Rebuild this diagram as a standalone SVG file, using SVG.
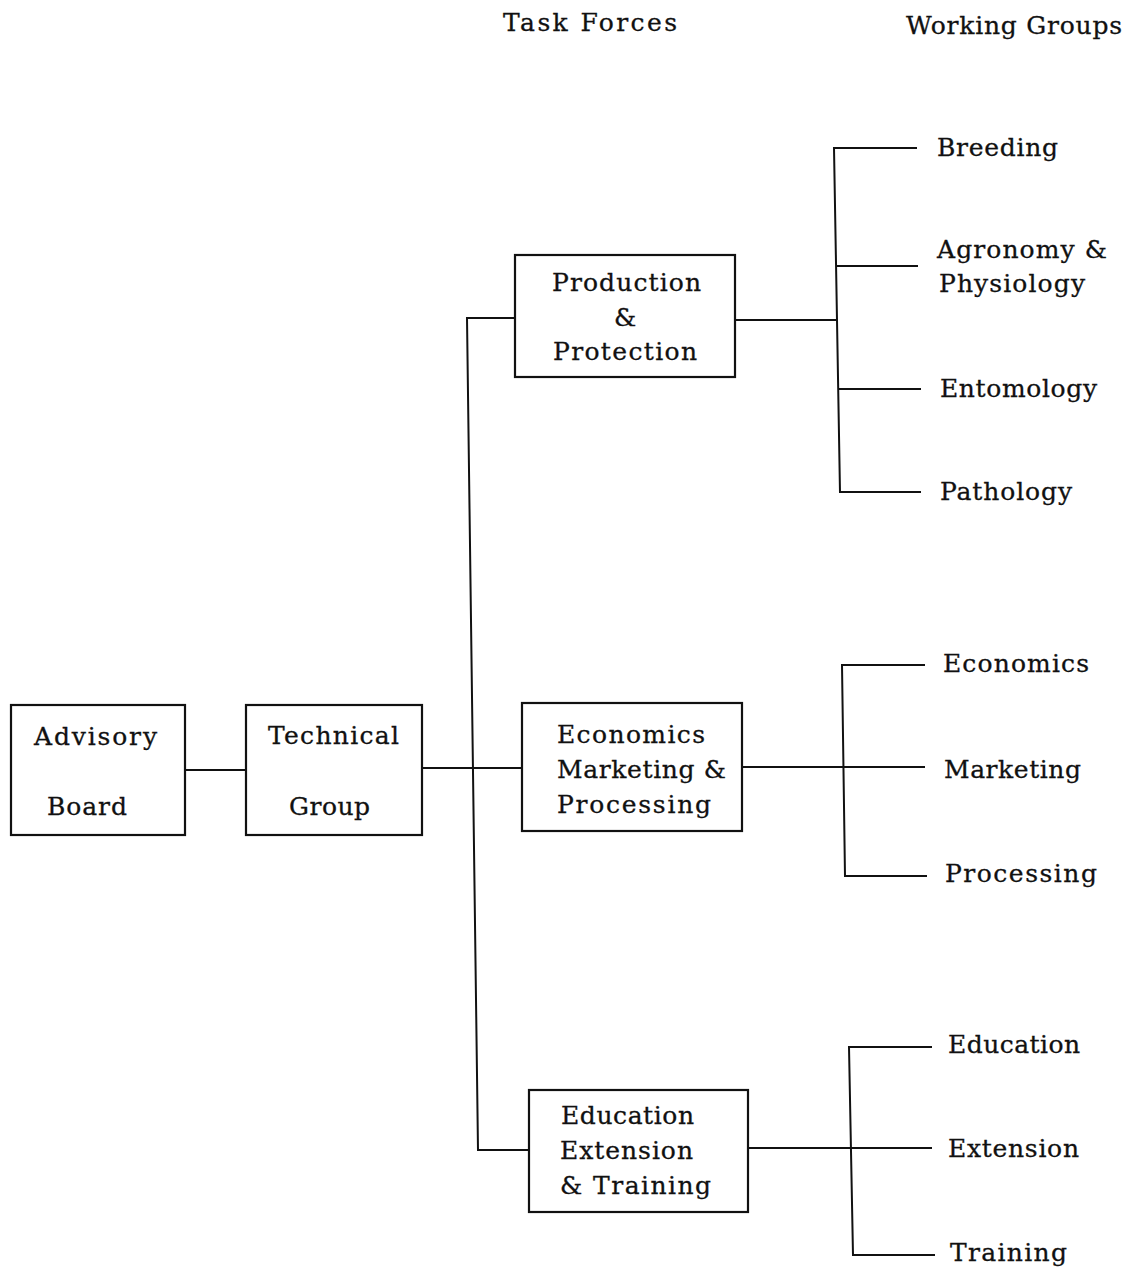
<svg xmlns="http://www.w3.org/2000/svg" width="1133" height="1271" viewBox="0 0 1133 1271">
<style>
.box{fill:none;stroke:#111;stroke-width:2.2}
.ln{fill:none;stroke:#111;stroke-width:2}
text{font-family:"DejaVu Serif","Liberation Serif",serif;font-size:25px;fill:#111;stroke:#111;stroke-width:0.3}
</style>
<rect width="1133" height="1271" fill="#fff"/>
<g id="headers">
<text x="503" y="31" textLength="174" lengthAdjust="spacing">Task Forces</text>
<text x="906" y="34" textLength="216" lengthAdjust="spacing">Working Groups</text>
</g>
<g id="connectors">
<line class="ln" x1="185" y1="770" x2="246" y2="770"/>
<line class="ln" x1="422" y1="768" x2="523" y2="768"/>
<polyline class="ln" points="515,318 467,318 478,1150 529,1150"/>
<line class="ln" x1="735" y1="320" x2="836" y2="320"/>
<polyline class="ln" points="917,148 834,148 840,492 921,492"/>
<line class="ln" x1="836" y1="266" x2="918" y2="266"/>
<line class="ln" x1="838" y1="389" x2="921" y2="389"/>
<line class="ln" x1="742" y1="767" x2="925" y2="767"/>
<polyline class="ln" points="925,665 842,665 845,876 927,876"/>
<line class="ln" x1="748" y1="1148" x2="932" y2="1148"/>
<polyline class="ln" points="932,1047 849,1047 853,1255 935,1255"/>
</g>
<g id="advisory-board">
<rect class="box" x="11" y="705" width="174" height="130"/>
<text x="34" y="745" textLength="123" lengthAdjust="spacing">Advisory</text>
<text x="47" y="815" textLength="80" lengthAdjust="spacing">Board</text>
</g>
<g id="technical-group">
<rect class="box" x="246" y="705" width="176" height="130"/>
<text x="268" y="744" textLength="131" lengthAdjust="spacing">Technical</text>
<text x="289" y="815" textLength="81" lengthAdjust="spacing">Group</text>
</g>
<g id="production-protection">
<rect class="box" x="515" y="255" width="220" height="122"/>
<text x="552" y="291" textLength="149" lengthAdjust="spacing">Production</text>
<text x="614" y="326">&amp;</text>
<text x="553" y="360" textLength="144" lengthAdjust="spacing">Protection</text>
</g>
<g id="economics-marketing-processing">
<rect class="box" x="522" y="703" width="220" height="128"/>
<text x="557" y="743" textLength="148" lengthAdjust="spacing">Economics</text>
<text x="557" y="778" textLength="169" lengthAdjust="spacing">Marketing &amp;</text>
<text x="557" y="813" textLength="154" lengthAdjust="spacing">Processing</text>
</g>
<g id="education-extension-training">
<rect class="box" x="529" y="1090" width="219" height="122"/>
<text x="561" y="1124" textLength="133" lengthAdjust="spacing">Education</text>
<text x="560" y="1159" textLength="133" lengthAdjust="spacing">Extension</text>
<text x="560" y="1194" textLength="151" lengthAdjust="spacing">&amp; Training</text>
</g>
<g id="wg-breeding"><text x="937" y="156" textLength="121" lengthAdjust="spacing">Breeding</text></g>
<g id="wg-agronomy">
<text x="937" y="258" textLength="170" lengthAdjust="spacing">Agronomy &amp;</text>
<text x="939" y="292" textLength="146" lengthAdjust="spacing">Physiology</text>
</g>
<g id="wg-entomology"><text x="940" y="397" textLength="157" lengthAdjust="spacing">Entomology</text></g>
<g id="wg-pathology"><text x="940" y="500" textLength="132" lengthAdjust="spacing">Pathology</text></g>
<g id="wg-economics"><text x="943" y="672" textLength="146" lengthAdjust="spacing">Economics</text></g>
<g id="wg-marketing"><text x="944" y="778" textLength="137" lengthAdjust="spacing">Marketing</text></g>
<g id="wg-processing"><text x="945" y="882" textLength="152" lengthAdjust="spacing">Processing</text></g>
<g id="wg-education"><text x="948" y="1053" textLength="132" lengthAdjust="spacing">Education</text></g>
<g id="wg-extension"><text x="948" y="1157" textLength="131" lengthAdjust="spacing">Extension</text></g>
<g id="wg-training"><text x="950" y="1261" textLength="117" lengthAdjust="spacing">Training</text></g>
</svg>
